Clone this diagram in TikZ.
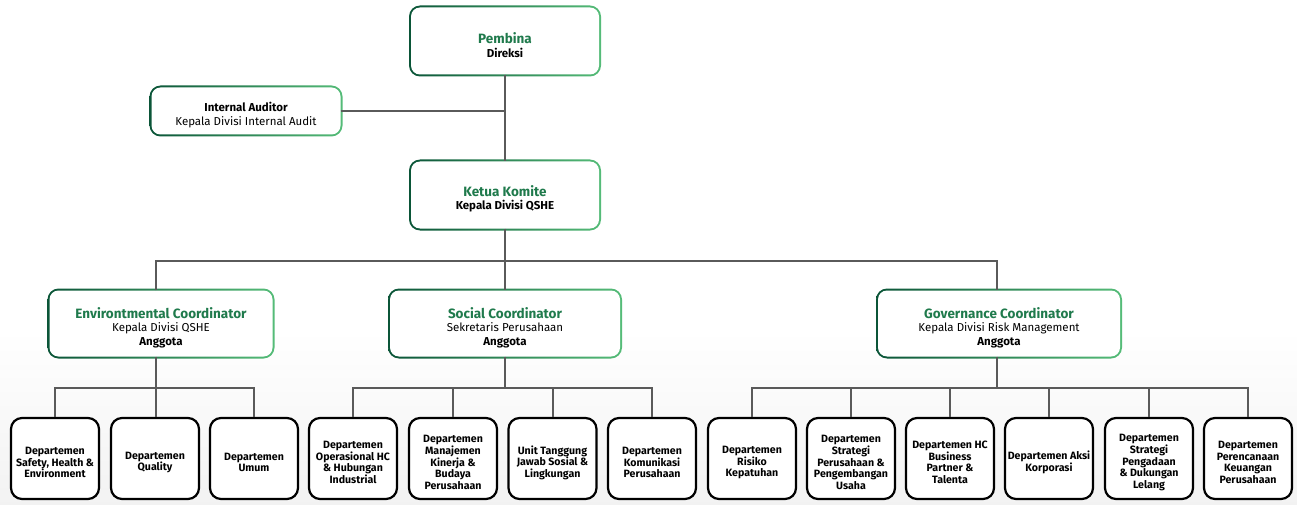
\documentclass[tikz,border=0pt]{standalone}
\usepackage{fontspec}
\setmainfont{Fira Sans}
\usetikzlibrary{calc}
\definecolor{gA}{HTML}{0B5538}
\definecolor{gB}{HTML}{55BC78}
\definecolor{ttl}{HTML}{1F7A4C}
\definecolor{lnc}{HTML}{5A5A5A}
\newcommand\gnode[6]{%
  \shade[rounded corners=11pt,left color=gA,right color=gB]
    ({#2-#4/2},{#3-#5/2}) rectangle ({#2+#4/2},{#3+#5/2});
  \pgfmathsetmacro\gwid{#4-4}\pgfmathsetmacro\ghei{#5-4}%
  \node[gin,minimum width=\gwid pt,minimum height=\ghei pt,label={[gtxt]center:{#6}}] (#1) at (#2,#3) {};}
\newcommand\dnode[3]{%
  \node[dept,label={[dtxt]center:{#3}}] (#1) at (#2,458.5) {};}
\tikzset{
  gin/.style={fill=white,rounded corners=9pt,inner sep=0pt},
  gtxt/.style={align=center,inner sep=0pt,yshift=-4pt,font=\fontsize{11.5}{13.5}\selectfont},
  dept/.style={draw=black,line width=2.2pt,rounded corners=11pt,fill=white,minimum width=88pt,minimum height=81pt,inner sep=0pt},
  dtxt/.style={align=center,inner sep=0pt,yshift=-4pt,font=\bfseries\fontsize{10.6}{11.6}\selectfont},
  conn/.style={draw=lnc,line width=2pt},
}
\newcommand\ttlf[1]{{\color{ttl}\bfseries\fontsize{13.5}{14}\selectfont #1}}
\begin{document}
\begin{tikzpicture}[x=1pt,y=-1pt]
\useasboundingbox (0,0) rectangle (1297,505);
\fill[white] (0,0) rectangle (1297,505);
\shade[top color=white,bottom color=black!5] (0,330) rectangle (1297,505);

\gnode{pembina}{505}{41}{192}{71}{\ttlf{Pembina}\\\bfseries Direksi}
\gnode{internal}{246}{111}{193}{51}{\bfseries Internal Auditor\\ Kepala Divisi Internal Audit}
\gnode{ketua}{505}{195}{192}{71}{\ttlf{Ketua Komite}\\\bfseries Kepala Divisi QSHE}
\gnode{env}{161}{323.5}{227}{70}{\ttlf{Environtmental Coordinator}\\ Kepala Divisi QSHE\\ \bfseries Anggota}
\gnode{soc}{505}{323.5}{234}{70}{\ttlf{Social Coordinator}\\ Sekretaris Perusahaan\\ \bfseries Anggota}
\gnode{gov}{999}{323.5}{246}{70}{\ttlf{Governance Coordinator}\\ Kepala Divisi Risk Management\\ \bfseries Anggota}

\dnode{d1}{55}{Departemen\\ Safety, Health \&\\ Environment}
\dnode{d2}{155}{Departemen\\ Quality}
\dnode{d3}{254}{Departemen\\ Umum}
\dnode{d4}{353}{Departemen\\ Operasional HC\\ \& Hubungan\\ Industrial}
\dnode{d5}{453}{Departemen\\ Manajemen\\ Kinerja \&\\ Budaya\\ Perusahaan}
\dnode{d6}{552.5}{Unit Tanggung\\ Jawab Sosial \&\\ Lingkungan}
\dnode{d7}{652}{Departemen\\ Komunikasi\\ Perusahaan}
\dnode{d8}{752}{Departemen\\ Risiko\\ Kepatuhan}
\dnode{d9}{851}{Departemen\\ Strategi\\ Perusahaan \&\\ Pengembangan\\ Usaha}
\dnode{d10}{950}{Departemen HC\\ Business\\ Partner \&\\ Talenta}
\dnode{d11}{1049}{Departemen Aksi\\ Korporasi}
\dnode{d12}{1149}{Departemen\\ Strategi\\ Pengadaan\\ \& Dukungan\\ Lelang}
\dnode{d13}{1248}{Departemen\\ Perencanaan\\ Keuangan\\ Perusahaan}

% connectors
\coordinate (b1) at (505,261);
\coordinate (be) at (156,388);
\coordinate (bs) at (505,388);
\coordinate (bg) at (997,388);
\draw[conn] (pembina.south) -- (ketua.north);
\draw[conn] (internal.east) -- (internal.east -| pembina.south);
\draw[conn] (ketua.south) -- (soc.north);
\draw[conn] (env.north -| be) -- (be |- b1) -- (bg |- b1) -- (gov.north -| bg);
\draw[conn] (env.south -| be) -- (be);
\draw[conn] (d1.north) |- (be) -| (d3.north);
\draw[conn] (be) -- (d2.north -| be);
\draw[conn] (soc.south) -- (bs);
\draw[conn] (d4.north) |- (bs) -| (d7.north);
\draw[conn] (d5.north) -- (d5.north |- bs);
\draw[conn] (d6.north) -- (d6.north |- bs);
\draw[conn] (gov.south -| bg) -- (bg);
\draw[conn] (d8.north) |- (bg) -| (d13.north);
\draw[conn] (d9.north) -- (d9.north |- bg);
\draw[conn] (d10.north) -- (d10.north |- bg);
\draw[conn] (d11.north) -- (d11.north |- bg);
\draw[conn] (d12.north) -- (d12.north |- bg);
\end{tikzpicture}
\end{document}
